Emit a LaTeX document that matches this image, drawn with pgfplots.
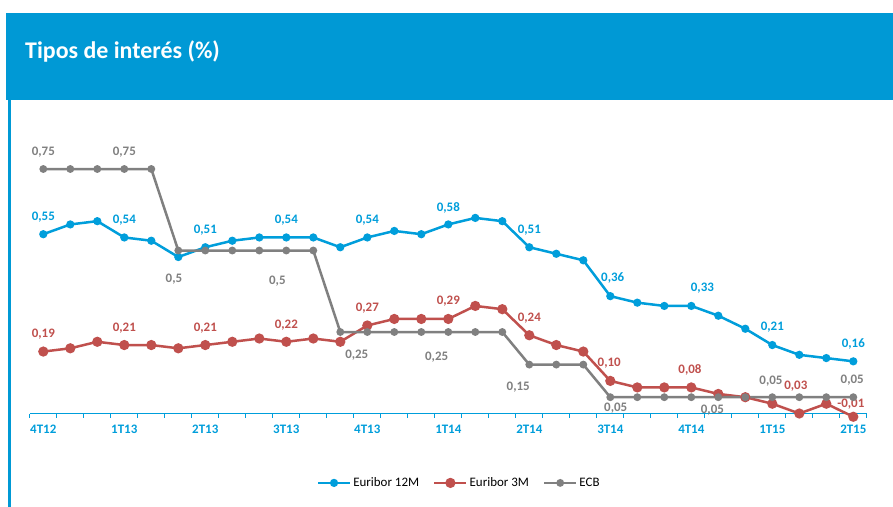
\documentclass[border=0pt]{standalone}
\usepackage{pgfplots}
\pgfplotsset{compat=1.18}
\usepackage{pgfplotstable}
\usepackage{fontspec}
\setmainfont{Carlito}
\definecolor{band}{RGB}{0,153,213}
\definecolor{eblue}{RGB}{0,158,219}
\definecolor{ered}{RGB}{192,80,77}
\definecolor{egray}{RGB}{128,128,128}

\pgfplotstableread{
i e12 e3 ecb
0 0.55 0.19 0.75
1 0.58 0.20 0.75
2 0.59 0.22 0.75
3 0.54 0.21 0.75
4 0.53 0.21 0.75
5 0.48 0.20 0.50
6 0.51 0.21 0.50
7 0.53 0.22 0.50
8 0.54 0.23 0.50
9 0.54 0.22 0.50
10 0.54 0.23 0.50
11 0.51 0.22 0.25
12 0.54 0.27 0.25
13 0.56 0.29 0.25
14 0.55 0.29 0.25
15 0.58 0.29 0.25
16 0.60 0.33 0.25
17 0.59 0.32 0.25
18 0.51 0.24 0.15
19 0.49 0.21 0.15
20 0.47 0.19 0.15
21 0.36 0.10 0.05
22 0.34 0.08 0.05
23 0.33 0.08 0.05
24 0.33 0.08 0.05
25 0.30 0.06 0.05
26 0.26 0.05 0.05
27 0.21 0.03 0.05
28 0.18 0.00 0.05
29 0.17 0.03 0.05
30 0.16 -0.01 0.05
}\data

\begin{document}
\begin{tikzpicture}[
  lbl/.style={font=\fontsize{13}{15}\selectfont\bfseries, inner sep=0pt, anchor=center},
  bl/.style={lbl, text=eblue},
  rl/.style={lbl, text=ered},
  gl/.style={lbl, text=egray}]
\useasboundingbox[fill=white] (0,0) rectangle (893bp,507bp);
% header band
\fill[band] (6bp,407bp) rectangle (893bp,494bp);
\node[anchor=base west, text=white, font=\fontsize{24}{28}\selectfont\bfseries, inner sep=0pt] at (25bp,448.7bp) {Tipos de interés (\%)};
% left rule
\draw[band, line width=3bp] (9.5bp,407bp) -- (9.5bp,0bp);

\begin{axis}[
  at={(29.8bp,77.2bp)}, anchor=south west,
  scale only axis, width=837bp, height=293.4bp,
  xmin=-0.5, xmax=30.5, ymin=-0.05, ymax=0.85,
  axis y line=none, axis x line*=middle,
  x axis line style={eblue, line width=1bp},
  xtick={0,3,...,30},
  xticklabels={4T12,1T13,2T13,3T13,4T13,1T14,2T14,3T14,4T14,1T15,2T15},
  major tick length=0pt,
  minor xtick={-0.5,0.5,...,30.5},
  minor tick length=4bp,
  tick align=outside,
  every tick/.style={eblue, line width=0.8bp},
  xticklabel style={font=\fontsize{13}{15}\selectfont\bfseries, text=eblue, yshift=-8bp},
  clip=false,
  legend columns=3,
  legend style={at={(0.513,-0.181)}, anchor=center, draw=none, fill=none,
    font=\fontsize{13}{15}\selectfont,
    /tikz/every even column/.append style={column sep=12bp}},
  legend image code/.code={\draw[mark repeat=2,mark phase=2] plot coordinates {(0bp,0bp) (16bp,0bp) (32bp,0bp)};},
]
\addplot[eblue, line width=2.5bp, mark=*, mark size=2.8bp, mark options={solid, fill=eblue}] table[x=i,y=e12]{\data};
\addlegendentry{Euribor 12M}
\addplot[ered, line width=2.5bp, mark=*, mark size=3.8bp, mark options={solid, fill=ered}] table[x=i,y=e3]{\data};
\addlegendentry{Euribor 3M}
\addplot[egray, line width=2.5bp, mark=*, mark size=2.6bp, mark options={solid, fill=egray}] table[x=i,y=ecb]{\data};
\addlegendentry{ECB}

% blue labels
\node[bl] at (axis cs:0,0.602) {0,55};
\node[bl] at (axis cs:3,0.594) {0,54};
\node[bl] at (axis cs:6,0.563) {0,51};
\node[bl] at (axis cs:9,0.594) {0,54};
\node[bl] at (axis cs:12,0.594) {0,54};
\node[bl] at (axis cs:15,0.630) {0,58};
\node[bl] at (axis cs:18,0.563) {0,51};
\node[bl] at (axis cs:21.09,0.416) {0,36};
\node[bl] at (axis cs:24.41,0.386) {0,33};
\node[bl] at (axis cs:27,0.264) {0,21};
\node[bl] at (axis cs:30,0.214) {0,16};
% red labels
\node[rl] at (axis cs:0,0.245) {0,19};
\node[rl] at (axis cs:3,0.262) {0,21};
\node[rl] at (axis cs:6,0.262) {0,21};
\node[rl] at (axis cs:9,0.271) {0,22};
\node[rl] at (axis cs:12,0.324) {0,27};
\node[rl] at (axis cs:15,0.345) {0,29};
\node[rl] at (axis cs:18,0.294) {0,24};
\node[rl] at (axis cs:20.96,0.153) {0,10};
\node[rl] at (axis cs:23.95,0.133) {0,08};
\node[rl] at (axis cs:27.87,0.085) {0,03};
\node[rl] at (axis cs:29.91,0.029) {-0,01};
% gray labels
\node[gl] at (axis cs:0,0.802) {0,75};
\node[gl] at (axis cs:3,0.802) {0,75};
\node[gl] at (axis cs:4.84,0.413) {0,5};
\node[gl] at (axis cs:8.67,0.406) {0,5};
\node[gl] at (axis cs:11.61,0.179) {0,25};
\node[gl] at (axis cs:14.57,0.174) {0,25};
\node[gl] at (axis cs:17.59,0.082) {0,15};
\node[gl] at (axis cs:21.2,0.017) {0,05};
\node[gl] at (axis cs:24.78,0.011) {0,05};
\node[gl] at (axis cs:26.95,0.100) {0,05};
\node[gl] at (axis cs:29.96,0.103) {0,05};
\end{axis}
\end{tikzpicture}
\end{document}
